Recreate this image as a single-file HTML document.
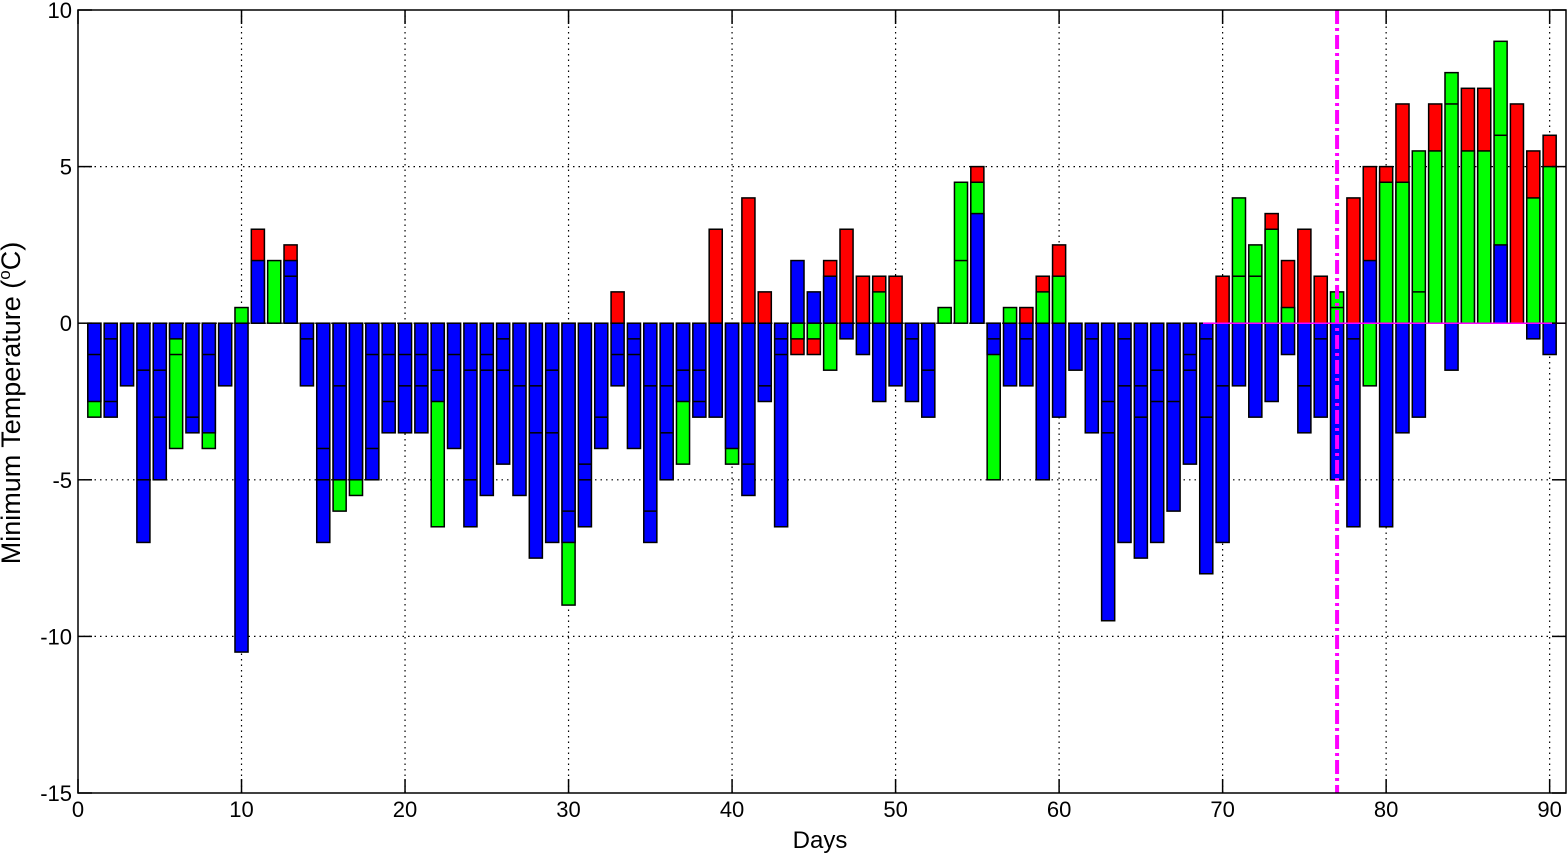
<!DOCTYPE html>
<html><head><meta charset="utf-8"><style>
html,body{margin:0;padding:0;background:#fff;}
svg{display:block;font-family:"Liberation Sans",sans-serif;}
</style></head><body>
<svg id="chart" width="1567" height="854" viewBox="0 0 1567 854" xmlns="http://www.w3.org/2000/svg">
<g id="grid"></g>
<g id="bars"></g>
<g id="axes"></g>
<text x="820" y="848" font-size="24" text-anchor="middle">Days</text>
<text transform="translate(20,403) rotate(-90)" font-size="27" text-anchor="middle">Minimum Temperature (<tspan font-size="17" dy="-10">o</tspan><tspan dy="10">C)</tspan></text>
</svg>
<script>
const days = Array.from({length:90},(_,i)=>i+1);
const redVals = [null,null,null,null,null,null,null,null,null,null,3,null,2.5,null,null,null,null,null,null,null,null,null,null,null,null,null,null,null,null,null,null,null,1,null,null,null,null,null,3,null,4,1,null,-1,-1,2,3,1.5,1.5,1.5,null,null,null,null,5,null,null,0.5,1.5,2.5,null,null,null,null,null,null,null,null,null,1.5,null,null,3.5,2,3,1.5,null,4,5,5,7,null,7,null,7.5,7.5,null,7,5.5,6];
const greenVals = [-3,null,null,null,null,-4,null,-4,null,0.5,null,2,null,null,null,-6,-5.5,null,null,null,null,-6.5,null,null,null,null,null,null,null,-9,null,null,null,null,null,null,-4.5,null,null,-4.5,null,null,null,-0.5,-0.5,-1.5,null,null,1,null,null,null,0.5,4.5,4.5,-5,0.5,null,1,1.5,null,null,null,null,null,null,null,null,null,null,4,2.5,3,0.5,null,null,1,null,-2,4.5,4.5,5.5,5.5,8,5.5,5.5,9,null,4,5];
const blueVals = [-2.5,-3,-2,-7,-5,-0.5,-3.5,-3.5,-2,-10.5,2,null,2,-2,-7,-5,-5,-5,-3.5,-3.5,-3.5,-2.5,-4,-6.5,-5.5,-4.5,-5.5,-7.5,-7,-7,-6.5,-4,-2,-4,-7,-5,-2.5,-3,-3,-4,-5.5,-2.5,-6.5,2,1,1.5,-0.5,-1,-2.5,-2,-2.5,-3,null,null,3.5,-1,-2,-2,-5,-3,-1.5,-3.5,-9.5,-7,-7.5,-7,-6,-4.5,-8,-7,-2,-3,-2.5,-1,-3.5,-3,-5,-6.5,2,-6.5,-3.5,-3,null,-1.5,null,null,2.5,null,-0.5,-1];
const edgeVals = [[-1],[-0.5,-2.5],[],[-1.5,-5],[-1.5,-3],[-1],[-3],[-1],[],[],[],[],[1.5],[-0.5],[-4,-5],[-2],[],[-1,-4],[-1,-2.5],[-1,-2],[-1,-2],[-1.5],[-1],[-1.5,-5],[-1,-1.5],[-0.5,-1.5],[-2],[-2,-3.5],[-1.5,-3.5],[-6],[-4.5,-5],[-3],[-1],[-0.5,-1],[-2,-6],[-2,-3.5],[-1.5],[-1.5,-2.5],[],[],[-4.5],[-2],[-0.5,-1],[],[],[],[],[],[],[],[-0.5],[-1.5],[],[2],[],[-0.5],[],[-0.5],[],[],[],[-0.5],[-2.5,-3.5],[-0.5,-2],[-2,-3],[-1.5,-2.5],[-2.5],[-1,-1.5],[-0.5,-3],[-2],[1.5],[1.5],[],[],[-2],[-0.5],[0.5],[-0.5],[],[],[],[1],[],[7],[],[],[6],[],[],[]];
const xTicks = [0,10,20,30,40,50,60,70,80,90];
const yTicks = [10,5,0,-5,-10,-15];
const markerDay = 77;

const L=78,R=1566,T=10,B=793,XMIN=0,XMAX=91,YMIN=-15,YMAX=10;
const sx=v=>L+(v-XMIN)/(XMAX-XMIN)*(R-L);
const sy=v=>T+(YMAX-v)/(YMAX-YMIN)*(B-T);
const NS="http://www.w3.org/2000/svg";
function mk(tag,attrs,parent){const e=document.createElementNS(NS,tag);for(const k in attrs)e.setAttribute(k,attrs[k]);parent.appendChild(e);return e;}
const grid=document.getElementById('grid'),bars=document.getElementById('bars'),axes=document.getElementById('axes');
xTicks.forEach(t=>{if(t>XMIN&&t<XMAX){const l=mk('line',{x1:sx(t),x2:sx(t),y1:T,y2:B,stroke:'#000','stroke-width':1.2,'stroke-dasharray':'1.5,4'},grid);

}});
yTicks.forEach(t=>{if(t>YMIN&&t<YMAX){const l=mk('line',{x1:L,x2:R,y1:sy(t),y2:sy(t),stroke:'#000','stroke-width':1.2,'stroke-dasharray':'1.5,4'},grid);

}});
const bw=0.8;
const colors={red:'#ff0000',green:'#00ff00',blue:'#0000ff'};
days.forEach((d,i)=>{
  const items=[['red',redVals[i]],['green',greenVals[i]],['blue',blueVals[i]]].filter(p=>p[1]!==null);
  items.sort((a,b)=>Math.abs(b[1])-Math.abs(a[1]));
  const x0=sx(d-bw/2),x1=sx(d+bw/2);
  items.forEach(([c,v])=>{
    const y0=sy(Math.max(v,0)),y1=sy(Math.min(v,0));
    const r=mk('rect',{x:x0,y:y0,width:x1-x0,height:y1-y0,fill:colors[c],stroke:'#000','stroke-width':1.5},bars);
    
    
  });
  edgeVals[i].forEach(v=>{
    const l=mk('line',{x1:x0,x2:x1,y1:sy(v),y2:sy(v),stroke:'#000','stroke-width':1.5},bars);
    
    
  });
});
const hz=mk('line',{x1:sx(68.8),x2:R,y1:sy(0),y2:sy(0),stroke:'#ff00ff','stroke-width':1.5},bars);


const vm=mk('line',{x1:sx(markerDay),x2:sx(markerDay),y1:T,y2:B,stroke:'#ff00ff','stroke-width':4,'stroke-dasharray':'14,4,3,4'},bars);


const box=mk('rect',{x:L,y:T,width:R-L,height:B-T,fill:'none',stroke:'#000','stroke-width':1.5},axes);


xTicks.forEach(t=>{
  mk('line',{x1:sx(t),x2:sx(t),y1:B,y2:B-14,stroke:'#000','stroke-width':1.5},axes);
  mk('line',{x1:sx(t),x2:sx(t),y1:T,y2:T+14,stroke:'#000','stroke-width':1.5},axes);
  const tx=mk('text',{x:sx(t),y:B+24,'font-size':22,'text-anchor':'middle'},axes);
  tx.textContent=t;
  
  
});
yTicks.forEach(t=>{
  mk('line',{x1:L,x2:L+14,y1:sy(t),y2:sy(t),stroke:'#000','stroke-width':1.5},axes);
  mk('line',{x1:R,x2:R-14,y1:sy(t),y2:sy(t),stroke:'#000','stroke-width':1.5},axes);
  const tx=mk('text',{x:L-6,y:sy(t)+8,'font-size':22,'text-anchor':'end'},axes);
  tx.textContent=t;
  
  
});
</script>
</body></html>
